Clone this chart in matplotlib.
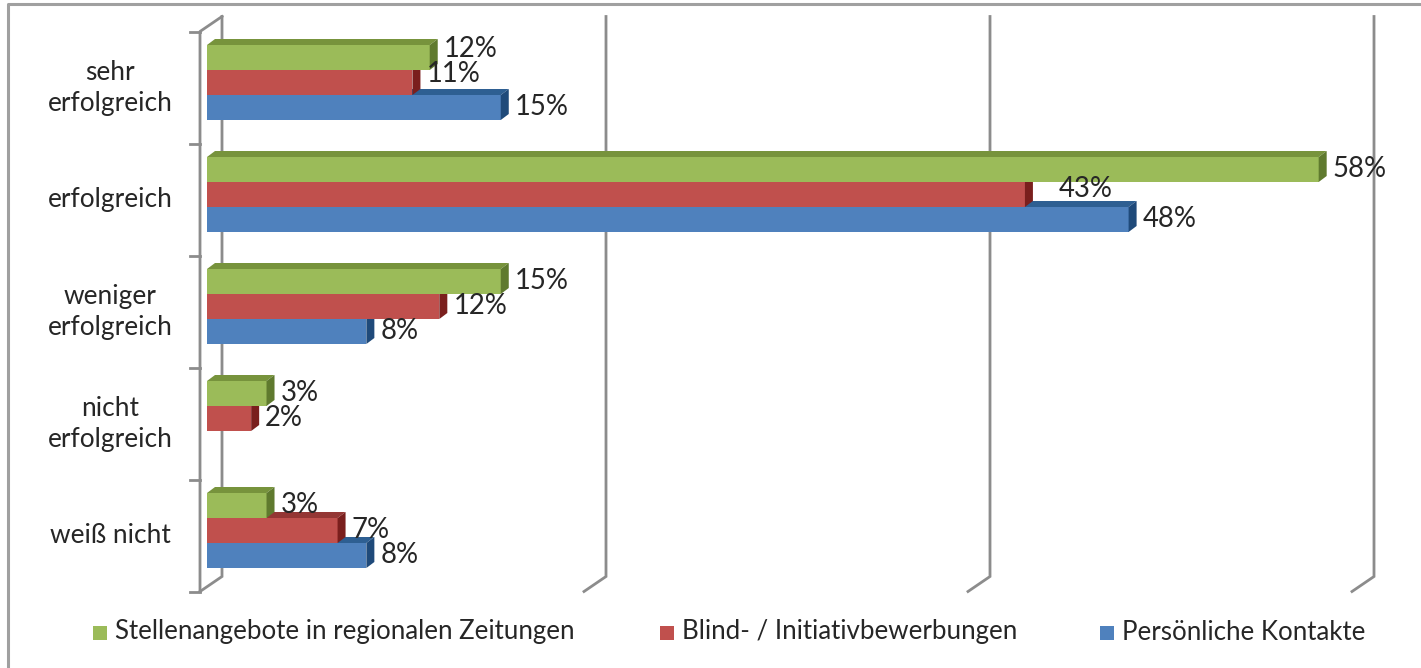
import matplotlib
matplotlib.use('Agg')
import matplotlib.pyplot as plt
from matplotlib.patches import Polygon, Rectangle

# ---------------- data ----------------
categories = ['sehr\nerfolgreich', 'erfolgreich', 'weniger\nerfolgreich',
              'nicht\nerfolgreich', 'weiß nicht']
series_names = ['Stellenangebote in regionalen Zeitungen',
                'Blind- / Initiativbewerbungen',
                'Persönliche Kontakte']
zeitungen = [11.6, 57.9, 15.3, 3.1, 3.1]
initiativ = [10.7, 42.6, 12.1, 2.3, 6.8]
kontakte = [15.3, 48.0, 8.3, 0.0, 8.3]
grid_values = [0, 20, 40, 60]

series = [zeitungen, initiativ, kontakte]
front_colors = ['#9BBB59', '#C0504D', '#4F81BD']
top_colors = ['#77933C', '#943634', '#2E5F92']
side_colors = ['#5F7A2E', '#7A1F1D', '#1F4A7A']

FONT = ['Lato', 'DejaVu Sans']
TXT = '#262626'
GRID = '#8C8C8C'

W, H, DPI = 1421, 668, 100
fig = plt.figure(figsize=(W / DPI, H / DPI), dpi=DPI)
ax = fig.add_axes([0, 0, 1, 1])
X0, PX = 207.0, 19.2     # pixel of 0 %, pixels per percent
Y0, PY = 82.5, 112.0     # pixel of first category centre, pixels per category
ax.set_xlim(-X0 / PX, (W - X0) / PX)
ax.set_ylim((H - Y0) / PY, -Y0 / PY)
ax.axis('off')


def dx(p):
    return p / PX


def dy(p):
    return p / PY


n = len(categories)
top_b, bot_b = -0.5, n - 0.5
BACK = (15, -10)
FRONT = (-7, 5)
LW = 2.0

# back wall gridlines + floor diagonals
for g in grid_values:
    xb = g + dx(BACK[0])
    xf = g + dx(FRONT[0])
    ax.plot([xb, xb, xf], [top_b + dy(BACK[1]), bot_b + dy(BACK[1]), bot_b + dy(FRONT[1])],
            color=GRID, lw=LW, solid_joinstyle='miter', zorder=1)
# left wall: front edge + top diagonal
xf0, xb0 = dx(FRONT[0]), dx(BACK[0])
ax.plot([xb0, xf0, xf0], [top_b + dy(BACK[1]), top_b + dy(FRONT[1]), bot_b + dy(FRONT[1])],
        color=GRID, lw=LW, zorder=1)
# category ticks
for k in range(n + 1):
    yk = k - 0.5 + dy(FRONT[1])
    ax.plot([xf0 - dx(10), xf0], [yk, yk], color=GRID, lw=LW, zorder=1)

# ---------------- fonts sized to match ----------------
fig.canvas.draw()
rend = fig.canvas.get_renderer()


def fit(text, target):
    t = fig.text(0, 0, text, fontsize=20, family=FONT)
    w = t.get_window_extent(rend).width
    t.remove()
    return 20 * target / w


fs_cat = fit('erfolgreich', 125)
fs_val = fit('58%', 54)
fs_leg = fit(series_names[0], 461)

# ---------------- bars ----------------
h = 25 / PY
DDX, DDY = dx(8), dy(6)
NUDGE = {(0, 0): (0, -8), (0, 1): (0, -8), (1, 1): (20, -5)}

for j in [2, 1, 0]:
    vals = series[j]
    z = 3 + (2 - j)
    centers = [i + (j - 1) * h for i in range(n)]
    ax.barh(centers, vals, height=h, left=0, color=front_colors[j], lw=0, zorder=z)
    for i, v in enumerate(vals):
        if v <= 0:
            continue
        yt = centers[i] - h / 2
        yb = centers[i] + h / 2
        ax.add_patch(Polygon([(0, yt), (v, yt), (v + DDX, yt - DDY), (DDX, yt - DDY)],
                             closed=True, facecolor=top_colors[j], lw=0, zorder=z))
        ax.add_patch(Polygon([(v, yt), (v, yb), (v + DDX, yb - DDY), (v + DDX, yt - DDY)],
                             closed=True, facecolor=side_colors[j], lw=0, zorder=z))
        nx, ny = NUDGE.get((i, j), (0, 0))
        ax.text(v + dx(14 + nx), centers[i] + dy(-1 + ny), f'{v:.0f}%',
                ha='left', va='center', fontsize=fs_val, color=TXT, family=FONT, zorder=10)

# category labels
for i, c in enumerate(categories):
    ax.text(dx(110 - X0), i + dy(5), c, ha='center', va='center', fontsize=fs_cat,
            color=TXT, family=FONT, linespacing=1.3)

# ---------------- legend ----------------
leg_x = [93, 660, 1100]
for j, name in enumerate(series_names):
    fig.patches.append(Rectangle((leg_x[j] / W, 1 - 640 / H), 14 / W, 14 / H,
                                 transform=fig.transFigure, facecolor=front_colors[j], lw=0))
    fig.text((leg_x[j] + 22) / W, 1 - 632 / H, name, ha='left', va='center',
             fontsize=fs_leg, color=TXT, family=FONT)

# outer frame (partially visible)
fig.add_artist(plt.Line2D([8 / W, 8 / W, 1.0], [0, 1 - 4 / H, 1 - 4 / H],
                          transform=fig.transFigure, color='#A0A0A0', lw=2.2))

fig.savefig('out.png', dpi=DPI)
